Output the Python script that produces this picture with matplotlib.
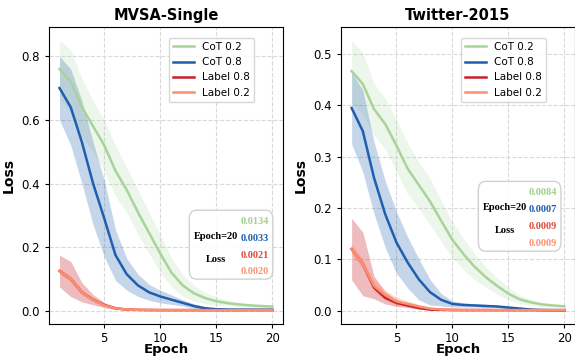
import matplotlib.pyplot as plt
import numpy as np
from matplotlib.patches import FancyBboxPatch

epochs = np.arange(1, 21)

# MVSA-Single
mvsa_cot02 = [0.76, 0.72, 0.64, 0.58, 0.52, 0.44, 0.38, 0.31, 0.245, 0.18,
              0.12, 0.08, 0.055, 0.04, 0.03, 0.024, 0.02, 0.017, 0.015, 0.0134]
mvsa_cot02_sd = [0.09, 0.10, 0.09, 0.08, 0.08, 0.08, 0.07, 0.07, 0.065, 0.06,
                 0.045, 0.035, 0.025, 0.018, 0.013, 0.009, 0.007, 0.005, 0.004, 0.003]
mvsa_cot08 = [0.70, 0.64, 0.53, 0.40, 0.29, 0.175, 0.115, 0.08, 0.058, 0.045,
              0.035, 0.025, 0.015, 0.008, 0.005, 0.004, 0.0036, 0.0035, 0.0034, 0.0033]
mvsa_cot08_sd = [0.10, 0.12, 0.13, 0.13, 0.12, 0.08, 0.05, 0.035, 0.025, 0.02,
                 0.015, 0.01, 0.007, 0.004, 0.003, 0.002, 0.002, 0.002, 0.002, 0.002]
mvsa_lab08 = [0.125, 0.10, 0.058, 0.035, 0.018, 0.008, 0.004, 0.003, 0.0025, 0.0023,
              0.0022, 0.0022, 0.0021, 0.0021, 0.0021, 0.0021, 0.0021, 0.0021, 0.0021, 0.0021]
mvsa_lab08_sd = [0.05, 0.055, 0.03, 0.016, 0.008, 0.004, 0.002, 0.001, 0.001, 0.001,
                 0.001, 0.001, 0.001, 0.001, 0.001, 0.001, 0.001, 0.001, 0.001, 0.001]
mvsa_lab02 = [0.125, 0.10, 0.058, 0.034, 0.017, 0.008, 0.004, 0.003, 0.0025, 0.0022,
              0.0021, 0.0021, 0.002, 0.002, 0.002, 0.002, 0.002, 0.002, 0.002, 0.002]
mvsa_lab02_sd = [0.01, 0.01, 0.008, 0.006, 0.004, 0.002, 0.001, 0.001, 0.001, 0.001,
                 0.001, 0.001, 0.001, 0.001, 0.001, 0.001, 0.001, 0.001, 0.001, 0.001]

# Twitter-2015
tw_cot02 = [0.467, 0.442, 0.393, 0.364, 0.322, 0.277, 0.245, 0.213, 0.175, 0.138,
            0.11, 0.085, 0.065, 0.048, 0.033, 0.022, 0.016, 0.012, 0.01, 0.0084]
tw_cot02_sd = [0.06, 0.06, 0.05, 0.05, 0.05, 0.05, 0.045, 0.045, 0.04, 0.035,
               0.03, 0.025, 0.02, 0.016, 0.012, 0.008, 0.006, 0.004, 0.003, 0.002]
tw_cot08 = [0.395, 0.35, 0.259, 0.188, 0.133, 0.094, 0.061, 0.036, 0.021, 0.013,
            0.011, 0.01, 0.009, 0.008, 0.006, 0.004, 0.002, 0.001, 0.0008, 0.0007]
tw_cot08_sd = [0.07, 0.08, 0.07, 0.065, 0.06, 0.05, 0.04, 0.025, 0.012, 0.006,
               0.004, 0.003, 0.003, 0.002, 0.002, 0.001, 0.001, 0.0005, 0.0005, 0.0005]
tw_lab08 = [0.12, 0.091, 0.045, 0.025, 0.015, 0.01, 0.005, 0.002, 0.0015, 0.0012,
            0.001, 0.001, 0.001, 0.0009, 0.0009, 0.0009, 0.0009, 0.0009, 0.0009, 0.0009]
tw_lab08_sd = [0.06, 0.062, 0.022, 0.012, 0.007, 0.004, 0.002, 0.001, 0.0005, 0.0005,
               0.0005, 0.0005, 0.0005, 0.0005, 0.0005, 0.0005, 0.0005, 0.0005, 0.0005, 0.0005]
tw_lab02 = [0.12, 0.091, 0.048, 0.03, 0.018, 0.013, 0.008, 0.004, 0.002, 0.0012,
            0.001, 0.001, 0.001, 0.0009, 0.0009, 0.0009, 0.0009, 0.0009, 0.0009, 0.0009]
tw_lab02_sd = [0.01, 0.01, 0.012, 0.01, 0.008, 0.006, 0.004, 0.002, 0.001, 0.0005,
               0.0005, 0.0005, 0.0005, 0.0005, 0.0005, 0.0005, 0.0005, 0.0005, 0.0005, 0.0005]

labels = ['CoT 0.2', 'CoT 0.8', 'Label 0.8', 'Label 0.2']
colors = ['#a8d49a', '#1f5fae', '#c8202a', '#fb8f6e']
band_alpha = [0.2, 0.25, 0.3, 0.3]
text_colors = ['#a1d08f', '#1f5fae', '#de4b3d', '#fb9470']

mvsa_final = ['0.0134', '0.0033', '0.0021', '0.0020']
tw_final = ['0.0084', '0.0007', '0.0009', '0.0009']

panels = [
    ('MVSA-Single', [mvsa_cot02, mvsa_cot08, mvsa_lab08, mvsa_lab02],
     [mvsa_cot02_sd, mvsa_cot08_sd, mvsa_lab08_sd, mvsa_lab02_sd], mvsa_final,
     (0.60, 0.151, 0.357, 0.232)),
    ('Twitter-2015', [tw_cot02, tw_cot08, tw_lab08, tw_lab02],
     [tw_cot02_sd, tw_cot08_sd, tw_lab08_sd, tw_lab02_sd], tw_final,
     (0.587, 0.245, 0.353, 0.235)),
]

fig = plt.figure(figsize=(5.75, 3.58), dpi=100)
axes = [fig.add_axes([0.085, 0.095, 0.407, 0.83]),
        fig.add_axes([0.593, 0.095, 0.407, 0.83])]

serif = ['Liberation Serif', 'DejaVu Serif']

for ax, (title, series, sds, finals, box) in zip(axes, panels):
    for i in range(4):
        m = np.array(series[i])
        s = np.array(sds[i])
        ax.fill_between(epochs, m - s, m + s, color=colors[i], alpha=band_alpha[i], linewidth=0)
    for i in range(4):
        ax.plot(epochs, series[i], color=colors[i], lw=1.8, label=labels[i])
    ax.set_title(title, fontsize=10.5, fontweight='bold', pad=5)
    ax.set_xlabel('Epoch', fontsize=9.5, fontweight='bold', labelpad=-1)
    ax.set_ylabel('Loss', fontsize=10, fontweight='bold', labelpad=4)
    ax.set_xticks([5, 10, 15, 20])
    ax.tick_params(labelsize=8.5, length=3)
    ax.tick_params(axis='x', pad=2.5)
    ax.grid(True, linestyle='--', color='#d9d9d9', linewidth=0.8)
    ax.set_axisbelow(True)
    ax.legend(loc='upper right', bbox_to_anchor=(0.876, 0.963), borderaxespad=0,
              fontsize=7.5, handlelength=2.0)

    bx, by, bw, bh = box
    ax.add_patch(FancyBboxPatch((bx, by), bw, bh, transform=ax.transAxes,
                                boxstyle='round,pad=0,rounding_size=0.03',
                                facecolor='white', edgecolor='#cccccc', lw=1.0,
                                alpha=0.9, zorder=5))
    for k in range(4):
        ax.text(bx + bw - 0.017, by + bh - 0.037 - k * 0.057, finals[k], transform=ax.transAxes,
                ha='right', va='center', fontsize=7.5, fontweight='bold',
                color=text_colors[k], family=serif, zorder=6)
    ax.text(bx + 0.113, by + bh * 0.62, 'Epoch=20', transform=ax.transAxes,
            ha='center', va='center', fontsize=7.5, fontweight='bold',
            color='black', family=serif, zorder=6)
    ax.text(bx + 0.113, by + bh * 0.29, 'Loss', transform=ax.transAxes, ha='center',
            va='center', fontsize=7.5, fontweight='bold', color='black', family=serif, zorder=6)

fig.savefig('out.png', dpi=100)
